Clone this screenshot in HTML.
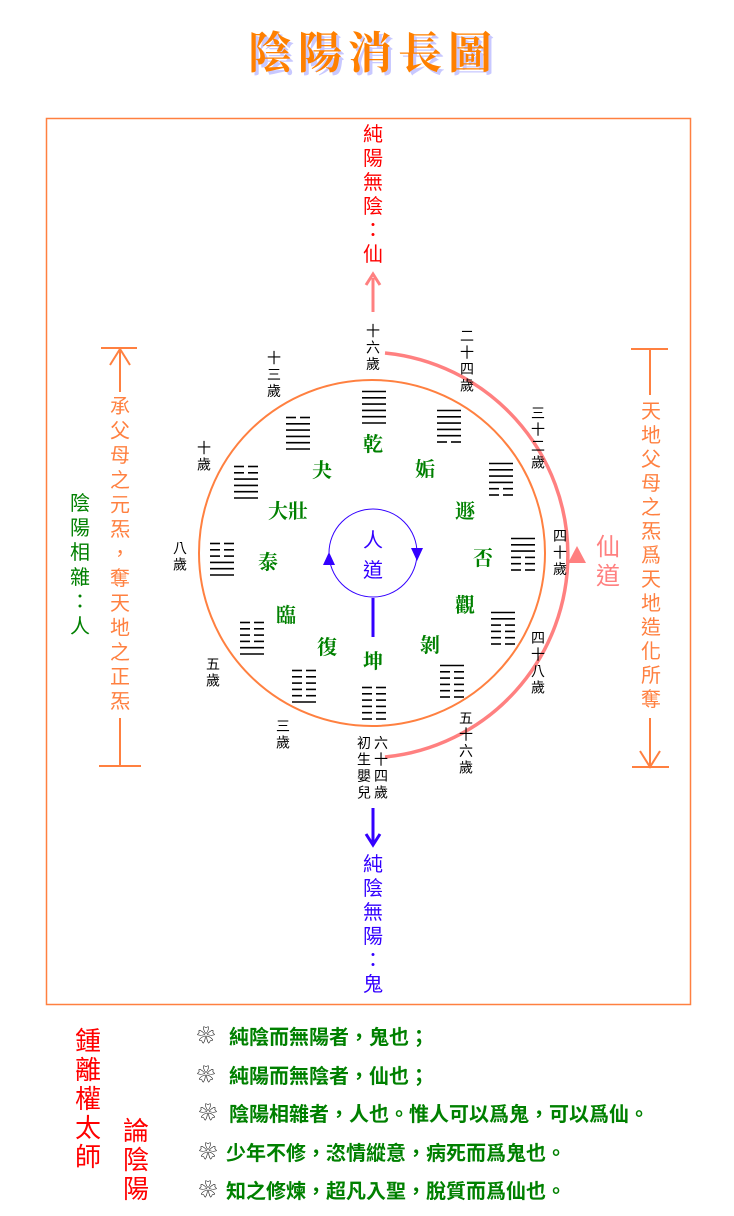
<!DOCTYPE html>
<html><head><meta charset="utf-8"><style>
html,body{margin:0;padding:0;background:#fff;width:734px;height:1216px;overflow:hidden}
svg{display:block}
text{font-family:"Liberation Sans","Noto Sans CJK TC","WenQuanYi Zen Hei",sans-serif}
.age{font-size:14px;fill:#000}
.gua{font-size:20px;fill:#008000;font-weight:bold;font-family:"Liberation Serif","Noto Serif CJK SC",serif}
</style></head><body>
<svg id="s" width="734" height="1216" viewBox="0 0 734 1216" xmlns="http://www.w3.org/2000/svg">
<g font-size="44" font-weight="bold" text-anchor="middle">
<text x="373" y="68" fill="#c8c8ff" style="font-family:'Noto Serif CJK SC',serif" transform="translate(3,3)" letter-spacing="6">陰陽消長圖</text>
<text x="373" y="68" fill="#ff8000" style="font-family:'Noto Serif CJK SC',serif" letter-spacing="6">陰陽消長圖</text>
</g>
<rect x="46.5" y="118.5" width="644" height="886" fill="none" stroke="#ff8040" stroke-width="1.5"/>
<circle cx="372" cy="553" r="173" fill="none" stroke="#ff8040" stroke-width="2"/>
<path d="M385 353 A203 203 0 0 1 385 757" fill="none" stroke="#ff8080" stroke-width="3.5"/>
<polygon points="577,546 568,563 586,563" fill="#ff8080"/>
<circle cx="373" cy="553" r="44" fill="none" stroke="#3300ff" stroke-width="1"/>
<polygon points="329,552 323,565 335,565" fill="#3300ff"/>
<polygon points="417,561 411,548 423,548" fill="#3300ff"/>
<line x1="373" y1="598" x2="373" y2="637" stroke="#3300ff" stroke-width="3"/>
<text x="373" y="547" font-size="20" fill="#3300ff" text-anchor="middle">人</text>
<text x="373" y="577" font-size="20" fill="#3300ff" text-anchor="middle">道</text>
<line x1="373" y1="312" x2="373" y2="278" stroke="#ff8080" stroke-width="3"/>
<polyline points="366,285 373,274 380,285" fill="none" stroke="#ff8080" stroke-width="3"/>
<line x1="373" y1="808" x2="373" y2="842" stroke="#3300ff" stroke-width="3"/>
<polyline points="366,834 373,845 380,834" fill="none" stroke="#3300ff" stroke-width="3"/>
<g font-size="20" fill="#ff0000" text-anchor="middle">
<text x="373" y="141">純</text><text x="373" y="165">陽</text><text x="373" y="189">無</text><text x="373" y="213">陰</text><text x="373" y="237">：</text><text x="373" y="261">仙</text>
</g>
<g font-size="20" fill="#3300ff" text-anchor="middle">
<text x="373" y="871">純</text><text x="373" y="895">陰</text><text x="373" y="919">無</text><text x="373" y="943">陽</text><text x="373" y="967">：</text><text x="373" y="991">鬼</text>
</g>
<g stroke="#ff8040" stroke-width="2" fill="none">
<line x1="101" y1="348" x2="137" y2="348"/>
<polyline points="110,365 120,349 130,365"/>
<line x1="120" y1="349" x2="120" y2="392"/>
<line x1="120" y1="718" x2="120" y2="766"/>
<line x1="99" y1="766" x2="141" y2="766"/>
<line x1="631" y1="349" x2="668" y2="349"/>
<line x1="650" y1="349" x2="650" y2="395"/>
<line x1="650" y1="718" x2="650" y2="767"/>
<polyline points="640,751 650,767 660,751"/>
<line x1="632" y1="767" x2="669" y2="767"/>
</g>
<g id="vt"></g>
<g font-size="26" fill="#ff0000" text-anchor="middle">
<text x="88" y="1050">鍾</text><text x="88" y="1079">離</text><text x="88" y="1108">權</text><text x="88" y="1137">太</text><text x="88" y="1166">師</text>
<text x="136" y="1140">論</text><text x="136" y="1169">陰</text><text x="136" y="1198">陽</text>
</g>
<g font-size="18" fill="#000">
<text x="197" y="1042">❀</text><text x="197" y="1081">❀</text><text x="199" y="1119">❀</text><text x="199" y="1158">❀</text><text x="199" y="1196">❀</text>
</g>
<g font-size="20" fill="#008000" font-weight="bold">
<text x="229" y="1044">純陰而無陽者，鬼也；</text>
<text x="229" y="1083">純陽而無陰者，仙也；</text>
<text x="229" y="1121">陰陽相雜者，人也。惟人可以爲鬼，可以爲仙。</text>
<text x="226" y="1160">少年不修，恣情縱意，病死而爲鬼也。</text>
<text x="226" y="1198">知之修煉，超凡入聖，脫質而爲仙也。</text>
</g>
<g class="gua" text-anchor="middle">
<text class="gua" x="373" y="451">乾</text>
<text class="gua" x="425" y="476">姤</text>
<text class="gua" x="465" y="518">遯</text>
<text class="gua" x="483" y="565">否</text>
<text class="gua" x="465" y="612">觀</text>
<text class="gua" x="430" y="652">剝</text>
<text class="gua" x="373" y="668">坤</text>
<text class="gua" x="327" y="654">復</text>
<text class="gua" x="286" y="622">臨</text>
<text class="gua" x="268" y="569">泰</text>
<text class="gua" x="288" y="518">大壯</text>
<text class="gua" x="322" y="477">夬</text>
</g>
<g id="hex" stroke="#000" stroke-width="1.6"></g>
<g id="ages" class="age" text-anchor="middle"></g>
</svg>
<script>
var NS="http://www.w3.org/2000/svg";
function el(p,t,a,txt){var e=document.createElementNS(NS,t);for(var k in a)e.setAttribute(k,a[k]);if(txt)e.textContent=txt;p.appendChild(e);return e;}
var hex=document.getElementById('hex');
var H=[[362,391,"111111"],[437,410,"111110"],[489,463,"111100"],[511,538,"111000"],[491,612,"110000"],[440,665,"100000"],[362,687,"000000"],[292,670,"000001"],[240,622,"000011"],[210,543,"000111"],[234,466,"001111"],[286,417,"011111"]];
H.forEach(function(h){for(var i=0;i<6;i++){var y=h[1]+i*6.3+0.5;if(h[2][i]=="1")el(hex,'line',{x1:h[0],y1:y,x2:h[0]+24,y2:y});else{el(hex,'line',{x1:h[0],y1:y,x2:h[0]+10,y2:y});el(hex,'line',{x1:h[0]+14,y1:y,x2:h[0]+24,y2:y});}}});
var ag=document.getElementById('ages');
var A=[[373,336,"十六歲"],[467,341,"二十四歲"],[538,418,"三十二歲"],[560,541,"四十歲"],[538,643,"四十八歲"],[466,723,"五十六歲"],[381,748,"六十四歲"],[364,748,"初生嬰兒"],[283,731,"三歲"],[213,669,"五歲"],[180,553,"八歲"],[204,453,"十歲"],[274,363,"十三歲"]];
A.forEach(function(a){for(var i=0;i<a[2].length;i++)el(ag,'text',{x:a[0],y:a[1]+i*16.5,'class':'age'},a[2][i]);});
var vt=document.getElementById('vt');
function vtext(x,y0,step,s,col,fs){for(var i=0;i<s.length;i++)el(vt,'text',{x:x,y:y0+i*step,'text-anchor':'middle',fill:col,'font-size':fs},s[i]);}
vtext(120,413,24.6,"承父母之元炁，奪天地之正炁","#ff8040",20);
vtext(651,418,24,"天地父母之炁爲天地造化所奪","#ff8040",20);
vtext(80,510,24.6,"陰陽相雜：人","#008000",20);
vtext(608,555,29,"仙道","#ff8080",24);
</script>
</body></html>
